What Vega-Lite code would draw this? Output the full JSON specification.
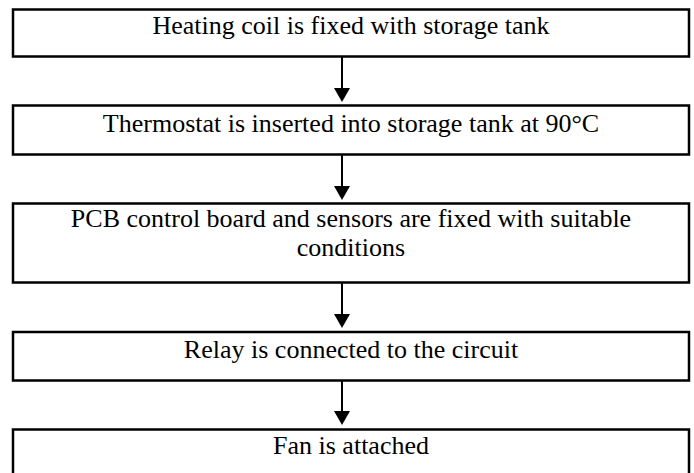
{
  "$schema": "https://vega.github.io/schema/vega-lite/v6.json",
  "width": 694,
  "height": 473,
  "autosize": "none",
  "padding": 0,
  "background": "white",
  "config": {"view": {"stroke": null}},
  "datasets": {
    "boxes": [
      {"step": 1, "left": 13, "right": 689, "top": 9.5, "bottom": 56.5},
      {"step": 2, "left": 13, "right": 689, "top": 105.5, "bottom": 154.5},
      {"step": 3, "left": 13, "right": 689, "top": 203.5, "bottom": 282.5},
      {"step": 4, "left": 13, "right": 689, "top": 332, "bottom": 380.5},
      {"step": 5, "left": 13, "right": 689, "top": 429.5, "bottom": 490}
    ],
    "arrows": [
      {"from": 1, "xc": 342, "start": 57, "head": 95},
      {"from": 2, "xc": 342, "start": 155, "head": 193},
      {"from": 3, "xc": 342, "start": 283, "head": 321},
      {"from": 4, "xc": 342, "start": 381, "head": 418}
    ],
    "labels": [
      {"step": 1, "xc": 351, "line": 33.5, "text": "Heating coil is fixed with storage tank"},
      {"step": 2, "xc": 351, "line": 131.5, "text": "Thermostat is inserted into storage tank at 90°C"},
      {"step": 3, "xc": 351, "line": 227, "text": "PCB control board and sensors are fixed with suitable"},
      {"step": 3, "xc": 351, "line": 256, "text": "conditions"},
      {"step": 4, "xc": 351, "line": 358, "text": "Relay is connected to the circuit"},
      {"step": 5, "xc": 351, "line": 454, "text": "Fan is attached"}
    ]
  },
  "layer": [
    {
      "data": {"name": "boxes"},
      "mark": {"type": "rect", "fill": "white", "stroke": "black", "strokeWidth": 2.5},
      "encoding": {
        "x": {"field": "left", "type": "quantitative", "scale": {"domain": [0, 694], "nice": false, "zero": false}, "axis": null},
        "x2": {"field": "right"},
        "y": {"field": "top", "type": "quantitative", "scale": {"domain": [0, 473], "nice": false, "zero": false, "reverse": true}, "axis": null},
        "y2": {"field": "bottom"}
      }
    },
    {
      "data": {"name": "arrows"},
      "mark": {"type": "rule", "color": "black", "strokeWidth": 2},
      "encoding": {
        "x": {"field": "xc", "type": "quantitative"},
        "y": {"field": "start", "type": "quantitative"},
        "y2": {"field": "head"}
      }
    },
    {
      "data": {"name": "arrows"},
      "mark": {"type": "point", "shape": "triangle-down", "filled": true, "color": "black", "size": 256, "opacity": 1, "strokeWidth": 0},
      "encoding": {
        "x": {"field": "xc", "type": "quantitative"},
        "y": {"field": "head", "type": "quantitative"}
      }
    },
    {
      "data": {"name": "labels"},
      "mark": {"type": "text", "align": "center", "baseline": "alphabetic", "font": "Liberation Serif", "fontSize": 26, "color": "black"},
      "encoding": {
        "x": {"field": "xc", "type": "quantitative"},
        "y": {"field": "line", "type": "quantitative"},
        "text": {"field": "text"}
      }
    }
  ]
}
